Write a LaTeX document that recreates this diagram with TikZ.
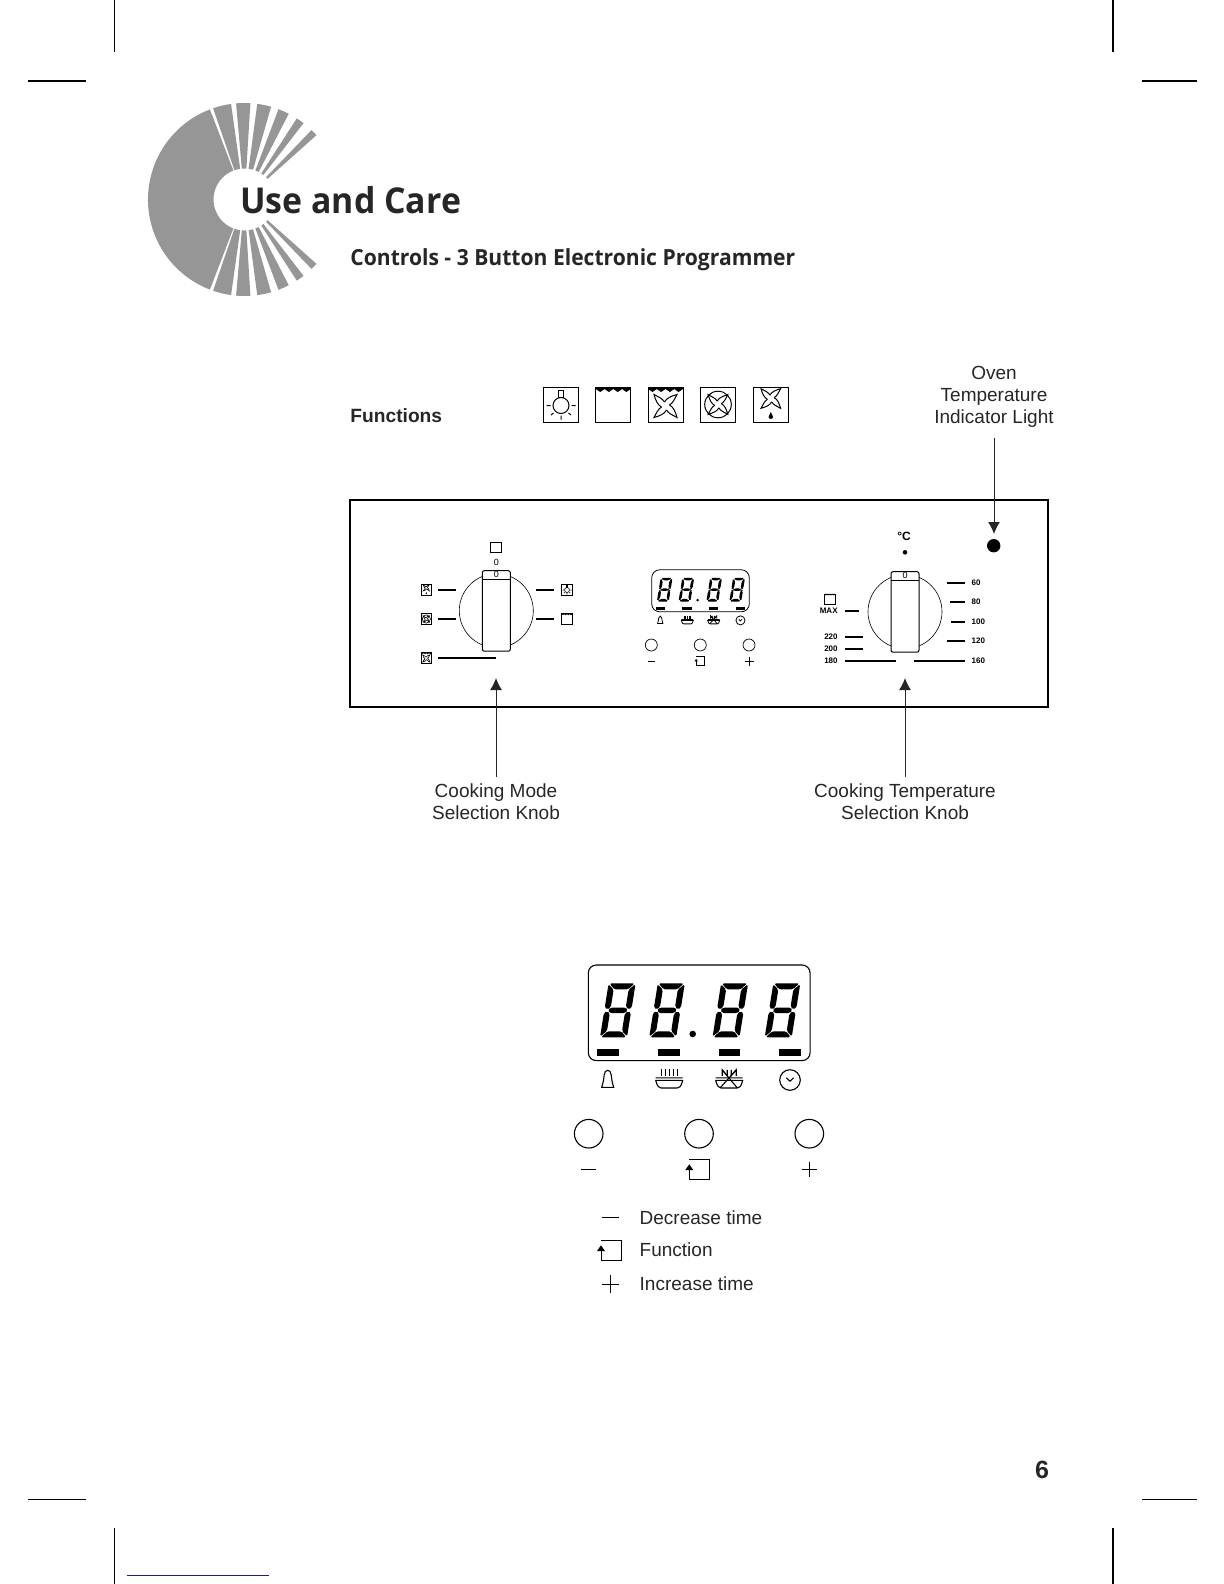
\documentclass[tikz,border=0pt]{standalone}
\usepackage{fontspec}
\setmainfont{Liberation Sans}
\newfontfamily\headfont{Open Sans}[FakeStretch=.95]
\usetikzlibrary{arrows.meta}

\definecolor{logogrey}{HTML}{969696}
\definecolor{inkgrey}{HTML}{262626}
\definecolor{linkblue}{HTML}{1A2080}

\tikzset{
  every pic/.style={transform shape},
  cropline/.style={line width=.55pt, black},
  arrowline/.style={line width=.5pt, inkgrey, -{Latex[length=6pt,width=6pt]}},
  tickline/.style={line width=.9pt, black},
  iconline/.style={line width=.5pt},
  lcdline/.style={line width=.55pt},
  callout/.style={font=\fontsize{9.5}{11}\selectfont, text=inkgrey, align=center, inner sep=0pt},
  scalelabel/.style={font=\bfseries\fontsize{4}{4.8}\selectfont, inner sep=0pt},
  keylabel/.style={font=\fontsize{9.5}{11}\selectfont, text=inkgrey, inner sep=0pt, anchor=base west},
  fanblades/.pic={
    \foreach \a in {0,90,180,270}
      \draw[iconline, rotate=\a] (-4,1) .. controls (-8,-1) and (-10,-6) .. (-11.5,-11.5) .. controls (-7,-9) and (-3,-7.5) .. (-1,-4);
  },
  iconbox/.pic={
    \draw[iconline, fill=white] (-17.5,-17.5) rectangle (17.5,17.5);
  },
  topheat/.pic={
    \fill (-17.5,-17.5) -- (17.5,-17.5) -- (17.5,-15.5) -- (13,-12.5) -- (8.75,-15.5) -- (4.4,-12.5) -- (0,-15.5) -- (-4.4,-12.5) -- (-8.75,-15.5) -- (-13,-12.5) -- (-17.5,-15.5) -- cycle;
  },
  lampicon/.pic={
    \pic {iconbox};
    \draw[iconline] (0,1) circle (8);
    \draw[iconline] (-2.5,-7) rectangle (2.5,-14.5);
    \draw[iconline] (-14.5,1) -- (-10.5,1) (10.5,1) -- (14.5,1) (0,11) -- (0,15) (-7.5,8.5) -- (-10,10.5) (7.5,8.5) -- (10,10.5);
  },
  topicon/.pic={
    \pic {iconbox};
    \pic {topheat};
  },
  fantopicon/.pic={
    \pic {iconbox};
    \pic {topheat};
    \pic at (0,1.5) {fanblades};
  },
  fanringicon/.pic={
    \pic {iconbox};
    \draw[iconline] (0,0) circle (13.3);
    \pic[scale=.85] {fanblades};
  },
  fandropicon/.pic={
    \pic {iconbox};
    \pic[scale=.85] at (0,-6) {fanblades};
    \fill (0,7.5) .. controls (.8,10) and (2.2,11) .. (2.2,12.5) .. controls (2.2,15) and (-2.2,15) .. (-2.2,12.5) .. controls (-2.2,11) and (-.8,10) .. (0,7.5);
  },
  lcddigit/.pic={
    \begin{scope}[xslant=.16, rounded corners=.8pt]
      \foreach \sy in {1,-1} {
        \fill (-12.6,\sy*27) -- (12.6,\sy*27) -- (7,\sy*21) -- (-7,\sy*21) -- cycle;
        \foreach \sx in {1,-1}
          \fill (\sx*13.5,\sy*26.2) -- (\sx*7.5,\sy*20.6) -- (\sx*7.5,\sy*3.4) -- (\sx*10.5,\sy*.8) -- (\sx*13.5,\sy*2.6) -- cycle;
      }
      \fill (-10,0) -- (-7.5,-2.8) -- (7.5,-2.8) -- (10,0) -- (7.5,2.8) -- (-7.5,2.8) -- cycle;
    \end{scope}
  },
  lcdpanel/.pic={
    \draw[lcdline, rounded corners=4] (-110.9,-47.8) rectangle (110.9,47.8);
    \foreach \dx in {-81.4,-32.2,31.1,83.3}
      \pic at (\dx,-2.5) {lcddigit};
    \fill (-6.5,21.2) circle (3.3);
    \foreach \bx/\bw in {-102.2/22,-41.2/22,19.8/21,79.8/22}
      \fill (\bx,36.2) rectangle ++(\bw,7);
    % bell
    \draw[lcdline] (-97.5,74.5) -- (-85.5,74.5) .. controls (-87.5,68) and (-87.5,66) .. (-88,62) .. controls (-88.5,56) and (-94.5,56) .. (-95,62) .. controls (-95.5,66) and (-95.5,68) .. (-97.5,74.5) -- cycle;
    % grill and fan bowls
    \foreach \gx in {-37.5,-33.6,-29.7,-25.8,-21.9}
      \draw[lcdline] (\gx,56.5) -- (\gx,63);
    \foreach \bx in {-30,30}
      \draw[lcdline, shift={(\bx,0)}] (-13.5,65) -- (13.5,65) (-13.5,67.5) .. controls (-12,74) and (-10,75.2) .. (-8,75.2) -- (8,75.2) .. controls (10,75.2) and (12,74) .. (13.5,67.5) -- cycle;
    \draw[lcdline] (23,57) -- (38,75) (37,57) -- (21,75);
    \draw[lcdline] (23,63) -- (23,57) -- (28,63) -- (28,57) (32,57) -- (32,63) -- (37,57) -- (37,63);
    % clock
    \draw[lcdline] (90.8,67.2) circle (10.3);
    \draw[lcdline] (87.2,65) -- (90.8,68.4) -- (94.4,65);
  },
  funcsym/.pic={
    \draw[iconline] (-10,-10) -- (10,-10) -- (10,10) -- (-10,10) -- (-10,0);
    \fill (-14,.7) -- (-6,.7) -- (-10,-5) -- cycle;
  },
  minussym/.pic={
    \draw[iconline] (-7.5,0) -- (7.5,0);
  },
  plussym/.pic={
    \draw[iconline] (-7.5,0) -- (7.5,0) (0,-7.5) -- (0,7.5);
  },
  knobbody/.pic={
    \draw[line width=.3pt] (0,0) circle (37);
    \draw[line width=.5pt, fill=white, rounded corners=1] (-14,-40) rectangle (14,40.5);
    \draw[line width=.5pt] (-14,-31.4) -- (14,-31.4);
  }
}

\begin{document}
\begin{tikzpicture}[x=.5pt,y=-.5pt]
  \useasboundingbox (0,0) rectangle (1224,1584);

  % crop marks
  \draw[cropline] (114.5,0) -- (114.5,52);
  \draw[cropline] (1113,0) -- (1113,52);
  \draw[cropline] (28,81) -- (86,81);
  \draw[cropline] (1142,81) -- (1197,81);
  \draw[cropline] (28,1499.3) -- (86,1499.3);
  \draw[cropline] (1142,1499.3) -- (1197,1499.3);
  \draw[cropline] (114.5,1527.5) -- (114.5,1584);
  \draw[cropline] (1113,1527.5) -- (1113,1584);
  \draw[line width=.5pt, linkblue] (127,1575.3) -- (269,1575.3);

  % logo
  \begin{scope}[shift={(244.5,199.5)}]
    \fill[logogrey] (111:48.25pt) arc[start angle=111,end angle=249,radius=48.25pt] -- (249:15.5pt) arc[start angle=249,end angle=111,radius=15.5pt] -- cycle;
    \foreach \s in {1,-1}
      \foreach \a/\b in {98/109,86.5/95,74/82.4,62.7/69.4,52.3/57.2,41.8/46}
        \fill[logogrey, yscale=\s] (\a:48.25pt) arc[start angle=\a,end angle=\b,radius=48.25pt] -- (\b:15.5pt) arc[start angle=\b,end angle=\a,radius=15.5pt] -- cycle;
  \end{scope}

  \node[anchor=base west, inner sep=0pt, text=inkgrey, font=\headfont\bfseries\fontsize{17.8}{20}\selectfont] (usecare) at (240,213) {Use and Care};
  \node[anchor=base west, inner sep=0pt, text=inkgrey, font=\headfont\bfseries\fontsize{11.1}{13}\selectfont] (controls) at (350,265) {Controls - 3 Button Electronic Programmer};

  % function icons
  \node[anchor=base west, inner sep=0pt, text=inkgrey, font=\bfseries\fontsize{9.6}{11}\selectfont] (functions) at (350,422) {Functions};
  \pic at (561,404.5) {lampicon};
  \pic at (613.3,404.5) {topicon};
  \pic at (665.5,404.5) {fantopicon};
  \pic at (718,404.5) {fanringicon};
  \pic at (770.8,404.5) {fandropicon};

  % control panel
  \draw[line width=1pt, black] (349.5,500) rectangle (1048,707);

  % mode knob
  \pic at (496.3,610.7) {knobbody};
  \node[inner sep=0pt, font=\fontsize{4.5}{5}\selectfont] (modezero) at (496.3,574.6) {0};
  \node[inner sep=0pt, font=\fontsize{4.5}{5}\selectfont] (modemark) at (496.3,562.3) {0};
  \draw[iconline] (490.3,542) rectangle (501.7,552.7);
  \draw[tickline] (438,589.7) -- (456,589.7) (438,619) -- (456,619) (438,657.7) -- (496,657.7);
  \draw[tickline] (536,589.7) -- (554,589.7) (536,619) -- (554,619);
  \pic[scale=.31, iconline/.style={line width=.3pt}] at (426.3,589.7) {fandropicon};
  \pic[scale=.31, iconline/.style={line width=.3pt}] at (426.3,619) {fanringicon};
  \pic[scale=.31, iconline/.style={line width=.3pt}] at (426.3,658) {fantopicon};
  \pic[scale=.31, iconline/.style={line width=.3pt}] at (567,589.7) {lampicon};
  \pic[scale=.31, iconline/.style={line width=.3pt}] at (567,619) {topicon};

  % small display
  \pic[scale=.44, lcdline/.style={line width=.4pt}] at (700.5,590.8) {lcdpanel};
  \draw[line width=.35pt] (651.3,645) circle (6) (700.3,645) circle (6) (749,645) circle (6);
  \pic[scale=.43] at (651.3,661) {minussym};
  \pic[scale=.43, iconline/.style={line width=.4pt}] at (700.5,661) {funcsym};
  \pic[scale=.6] at (749,661) {plussym};

  % temperature knob
  \pic at (905,611.7) {knobbody};
  \node[inner sep=0pt, font=\fontsize{4.5}{5}\selectfont] (tempzero) at (905,575.7) {0};
  \node[inner sep=0pt, font=\bfseries\fontsize{6}{7}\selectfont] (degc) at (904,536) {°C};
  \fill (905,552.3) circle (2.3);
  \draw[tickline] (947,582.7) -- (965,582.7) (950,602) -- (965,602) (951,621.7) -- (965,621.7) (947,641) -- (965,641) (914,661) -- (965,661);
  \draw[tickline] (845,661) -- (896,661) (845,648.7) -- (863,648.7) (845,637) -- (863,637) (845,610.7) -- (859,610.7);
  \node[scalelabel, anchor=west] (t60) at (971.3,582.7) {60};
  \node[scalelabel, anchor=west] (t80) at (971.3,602) {80};
  \node[scalelabel, anchor=west] (t100) at (971.3,621.7) {100};
  \node[scalelabel, anchor=west] (t120) at (971.3,641) {120};
  \node[scalelabel, anchor=west] (t160) at (971.3,661) {160};
  \node[scalelabel, anchor=east] (t180) at (838,661) {180};
  \node[scalelabel, anchor=east] (t200) at (838,649) {200};
  \node[scalelabel, anchor=east] (t220) at (838,637) {220};
  \node[scalelabel, anchor=east] (tmax) at (838,611) {MAX};
  \pic[scale=.31, iconline/.style={line width=.3pt}] at (829.5,599.3) {topicon};

  % callouts
  \fill (993.7,545.7) circle (6.7);
  \coordinate (lighttip) at (994,534);
  \coordinate (modetip) at (496,678);
  \coordinate (temptip) at (905,678);
  \node[callout, outer sep=5pt] (lightlabel) at (994,397) {Oven\\Temperature\\Indicator Light};
  \node[callout, outer sep=3.5pt] (modelabel) at (496,801.5) {Cooking Mode\\Selection Knob};
  \node[callout, outer sep=3.5pt] (templabel) at (905,801.5) {Cooking Temperature\\Selection Knob};
  \draw[arrowline] (lightlabel) -- (lighttip);
  \draw[arrowline] (modelabel) -- (modetip);
  \draw[arrowline] (templabel) -- (temptip);

  % large display
  \pic at (699.2,1012.8) {lcdpanel};
  \draw[line width=.55pt] (588.7,1133.7) circle (14.3) (699,1133.7) circle (14.3) (809.3,1133.7) circle (14.3);
  \pic at (588.3,1169.3) {minussym};
  \pic at (699.3,1169.3) {funcsym};
  \pic at (809.3,1169.3) {plussym};

  % key
  \pic[scale=1.1] at (610.7,1217.3) {minussym};
  \pic at (611,1250.3) {funcsym};
  \pic[scale=1.15] at (610.7,1284) {plussym};
  \node[keylabel] (decrease) at (639.3,1224) {Decrease time};
  \node[keylabel] (function) at (639.3,1256.7) {Function};
  \node[keylabel] (increase) at (639.3,1290) {Increase time};

  \node[inner sep=0pt, font=\bfseries\fontsize{12.5}{14}\selectfont, text=inkgrey] (pagenum) at (1042,1470) {6};
\end{tikzpicture}
\end{document}
